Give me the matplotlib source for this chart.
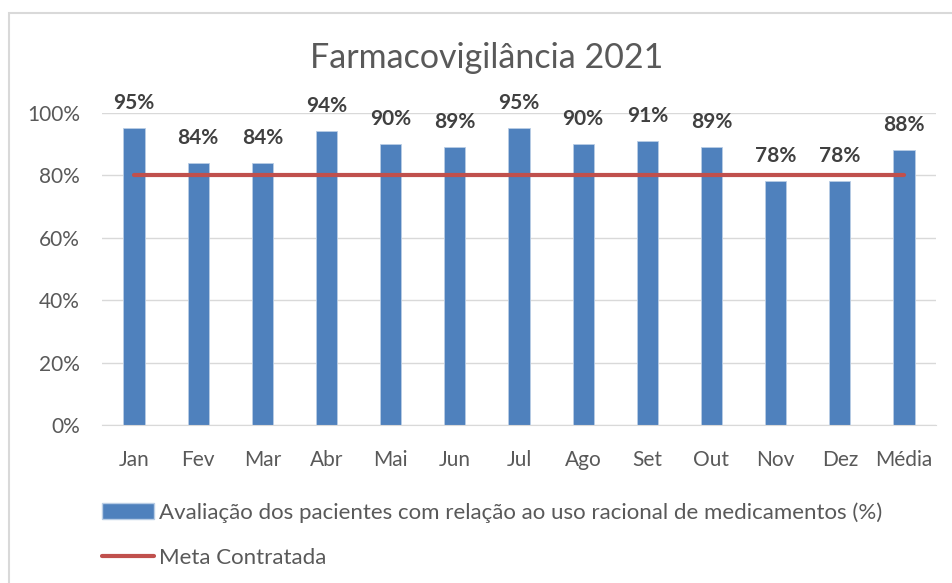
import matplotlib.pyplot as plt
from matplotlib.patches import Rectangle
from matplotlib.lines import Line2D
from matplotlib.patches import Patch

meses = ['Jan', 'Fev', 'Mar', 'Abr', 'Mai', 'Jun', 'Jul', 'Ago', 'Set', 'Out', 'Nov', 'Dez', 'Média']
avaliacao = [95, 84, 84, 94, 90, 89, 95, 90, 91, 89, 78, 78, 88]
meta = [80] * len(meses)
yticks = [0, 20, 40, 60, 80, 100]

plt.rcParams['font.family'] = ['Lato', 'DejaVu Sans']

fig = plt.figure(figsize=(9.52, 5.83), dpi=100)
# light border around the chart area
fig.patches.append(Rectangle((9 / 952, -0.05), 1.0, 1 - 13 / 583 + 0.05,
                             transform=fig.transFigure, fill=False,
                             edgecolor='#D9D9D9', linewidth=1.5))

ax = fig.add_axes([102 / 952, 1 - 425 / 583, 834 / 952, (425 - 112.7) / 583])

x = range(len(meses))
ax.bar(x, avaliacao, width=0.33, color='#4F81BD', edgecolor='#B9CDE5',
       linewidth=0.6, zorder=2)
ax.plot(x, meta, color='#C0504D', linewidth=3, solid_capstyle='round', zorder=3)

for i, v in enumerate(avaliacao):
    ax.annotate(f'{v}%', (i, v), xytext=(0, 18), textcoords='offset points',
                ha='center', va='center', fontsize=15, fontweight='bold',
                color='#404040', annotation_clip=False)

ax.set_xlim(-0.5, len(meses) - 0.5)
ax.set_ylim(0, 100)
ax.set_yticks(yticks)
ax.set_yticklabels([f'{t}%' for t in yticks])
ax.set_xticks(list(x))
ax.set_xticklabels(meses)
ax.tick_params(axis='both', length=0, labelsize=15, colors='#595959')
ax.tick_params(axis='x', pad=18)
ax.tick_params(axis='y', pad=16)
ax.grid(axis='y', color='#D9D9D9', linewidth=1, zorder=0)
ax.set_axisbelow(True)
for s in ['top', 'right', 'left']:
    ax.spines[s].set_visible(False)
ax.spines['bottom'].set_color('#D9D9D9')

fig.text(487 / 952, 1 - 58 / 583, 'Farmacovigilância 2021', ha='center', va='center',
         fontsize=24.5, color='#595959')

handles = [Patch(facecolor='#4F81BD', edgecolor='#B9CDE5'),
           Line2D([0], [0], color='#C0504D', linewidth=3, solid_capstyle='round')]
labels = ['Avaliação dos pacientes com relação ao uso racional de medicamentos (%)',
          'Meta Contratada']
leg = fig.legend(handles, labels, loc='upper left', bbox_to_anchor=(82 / 952, 1 - 482 / 583),
                 frameon=False, fontsize=16, handlelength=2.35, handleheight=0.7,
                 handletextpad=0.2, labelspacing=1.15)
for t in leg.get_texts():
    t.set_color('#595959')

fig.savefig('out.png', dpi=100)
